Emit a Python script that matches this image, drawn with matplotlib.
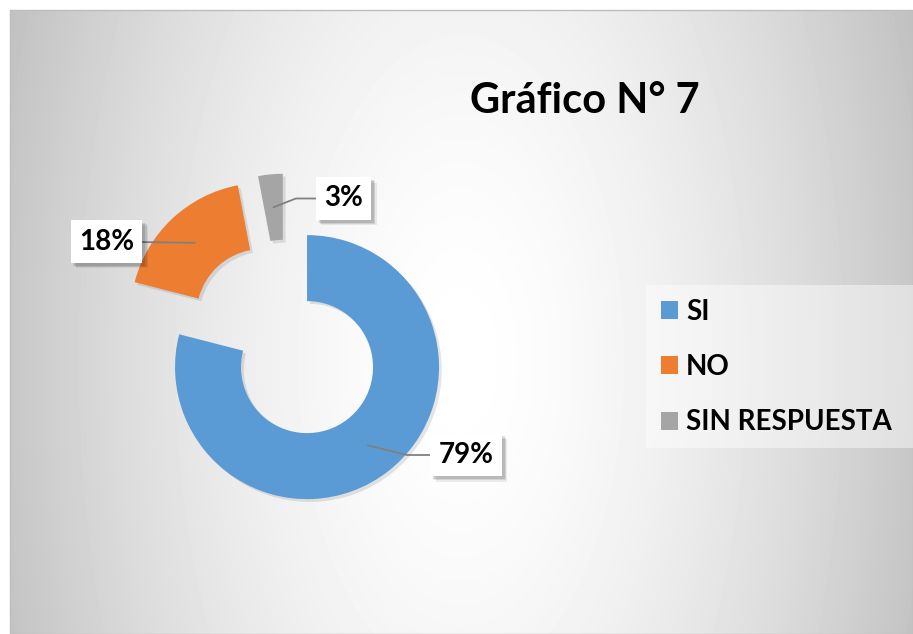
import numpy as np
import matplotlib.pyplot as plt
import matplotlib.patheffects as pe
from matplotlib.patches import Patch, Rectangle

plt.rcParams['font.family'] = ['Lato', 'DejaVu Sans']

# data
categorias = ['SI', 'NO', 'SIN RESPUESTA']
valores = [79, 18, 3]
etiquetas = ['79%', '18%', '3%']
colores = ['#5B9BD5', '#ED7D31', '#A5A5A5']

W, H = 913, 634
R_PX = 132.0            # pie radius in pixels
CX, CY = 286, 340       # pie centre in pixels (from top-left)

fig = plt.figure(figsize=(W / 100, H / 100), dpi=100)
fig.patch.set_facecolor('white')

# background: chart area with radial grey gradient
bg = fig.add_axes([0, 0, 1, 1])
xx, yy = np.meshgrid(np.arange(10, W) + 0.5, np.arange(10, H) + 0.5)
t = np.hypot((xx - 461) / 452, (yy - 360) / 900)
v = np.clip(255 - 56 * t ** 1.6, 185, 255) / 255
bg.imshow(v, cmap='gray', vmin=0, vmax=1, extent=(10, W, H, 10),
          interpolation='bilinear', aspect='auto')
bg.set_xlim(0, W)
bg.set_ylim(H, 0)
bg.axis('off')
bg.add_patch(Rectangle((10, 10), W - 10, H - 10, fill=False, ec='#bdbdbd', lw=1))
# legend backdrop
bg.add_patch(Rectangle((646, 285), W - 646, 163, fc='white', alpha=0.45, ec='none'))

# pie axes, 1 data unit = pie radius
ax = fig.add_axes([0, 0, 1, 1])
ax.axis('off')


def px(x, y):
    return ((x - CX) / R_PX, (CY - y) / R_PX)


wedges, _ = ax.pie(valores, colors=colores, startangle=90, counterclock=False,
                   explode=[0.26] * 3, radius=1,
                   wedgeprops=dict(width=0.5, linewidth=0))
ax.set_xlim(-CX / R_PX, (W - CX) / R_PX)
ax.set_ylim(-(H - CY) / R_PX, CY / R_PX)
for w in wedges:
    w.set_path_effects([pe.SimplePatchShadow(offset=(2, -2), shadow_rgbFace='k', alpha=0.10),
                        pe.Normal()])

# data labels (box centre in pixels) and leader line angle at the slice
pos_lbl = [(466, 455), (106.5, 241.5), (343.5, 198.5)]
ang_lbl = [-13.8, None, 21.4]

for w, txt, p, a in zip(wedges, etiquetas, pos_lbl, ang_lbl):
    th = np.deg2rad((w.theta1 + w.theta2) / 2)
    cx, cy = w.center
    anchor = (cx + 0.75 * np.cos(th), cy + 0.75 * np.sin(th))
    if a is None:
        cs = 'arc3,rad=0'
    else:
        cs = 'angle,angleA=0,angleB=%g,rad=0' % a
    an = ax.annotate(txt, xy=anchor, xytext=px(*p), ha='center', va='center',
                     fontsize=20, fontweight='bold', color='black',
                     bbox=dict(boxstyle='square,pad=0.3', fc='white', ec='none'),
                     arrowprops=dict(arrowstyle='-', color='#808080', lw=1.3,
                                     shrinkA=0, shrinkB=0, connectionstyle=cs))
    an.get_bbox_patch().set_path_effects([
        pe.SimplePatchShadow(offset=(4, -4), shadow_rgbFace='k', alpha=0.07),
        pe.SimplePatchShadow(offset=(3, -3), shadow_rgbFace='k', alpha=0.10),
        pe.SimplePatchShadow(offset=(2, -2), shadow_rgbFace='k', alpha=0.12),
        pe.Normal()])

fig.text(585 / W, 1 - 113 / H, 'Gráfico N° 7', ha='center', va='baseline',
         fontsize=30, fontweight='bold', color='black')

handles = [Patch(fc=c, ec='none') for c in colores]
fig.legend(handles, categorias, loc='center left',
           bbox_to_anchor=(661 / W, 1 - 367 / H), frameon=False,
           prop=dict(weight='bold', size=20), handlelength=0.62,
           handleheight=0.62, handletextpad=0.28, labelspacing=1.06,
           borderpad=0, borderaxespad=0)

fig.savefig('out.png', dpi=100)
